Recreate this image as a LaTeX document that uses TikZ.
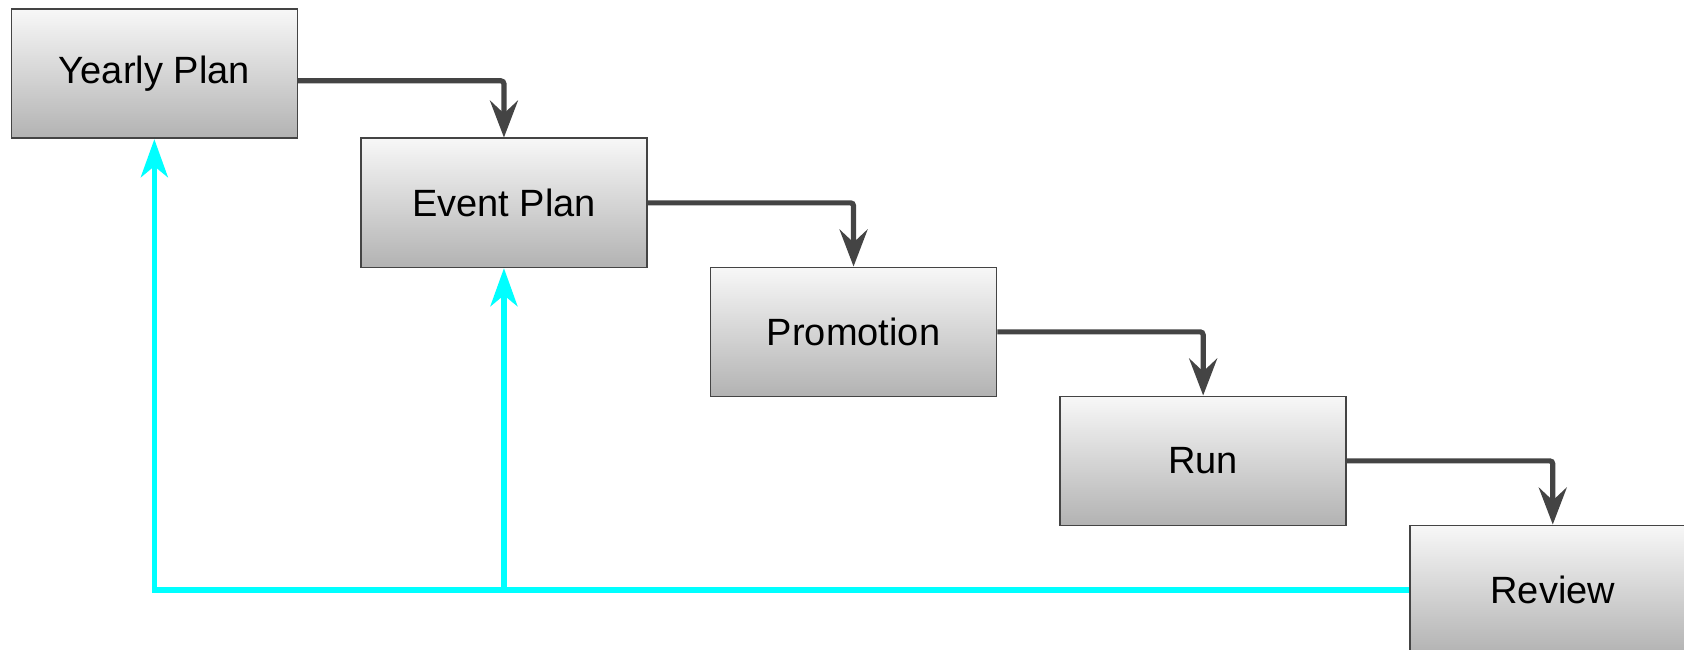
\documentclass[tikz,border=0pt]{standalone}
\usepackage{fontspec}
\setmainfont{Liberation Sans}
\usetikzlibrary{arrows.meta}
\definecolor{edge}{HTML}{444444}
\definecolor{fb}{HTML}{00FFFF}
\tikzset{
  stage/.style={draw=edge, line width=1.7pt, top color=white!97!black, bottom color=black!30,
    minimum width=286pt, minimum height=129pt, inner sep=0pt, anchor=north west,
    font=\fontsize{38}{45}\selectfont},
  darr/.style={draw=edge, line width=5.2pt, rounded corners=3pt,
    -{Stealth[length=37pt, width=28pt, inset=13pt]}},
  carr/.style={draw=fb, line width=5.5pt,
    -{Stealth[length=38pt, width=27pt, inset=11pt]}}
}
\begin{document}
\begin{tikzpicture}[x=1pt, y=-1pt]
\useasboundingbox (0,0) rectangle (1684,650);
\node[stage] (Y) at (10.5,8.5) {Yearly Plan};
\node[stage] (E) at (360.1,137.5) {Event Plan};
\node[stage] (P) at (709.7,266.5) {Promotion};
\node[stage] (U) at (1059.3,395.5) {Run};
\node[stage] (R) at (1408.9,524.5) {Review};
\draw[darr] ([yshift=-7pt]Y.east) -| (E.north);
\draw[darr] (E.east) -| (P.north);
\draw[darr] (P.east) -| (U.north);
\draw[darr] (U.east) -| (R.north);
\coordinate (j) at (R.west -| E.south);
\draw[carr] (R.west) -| (Y.south);
\draw[carr] (j) -- (E.south);
\end{tikzpicture}
\end{document}
